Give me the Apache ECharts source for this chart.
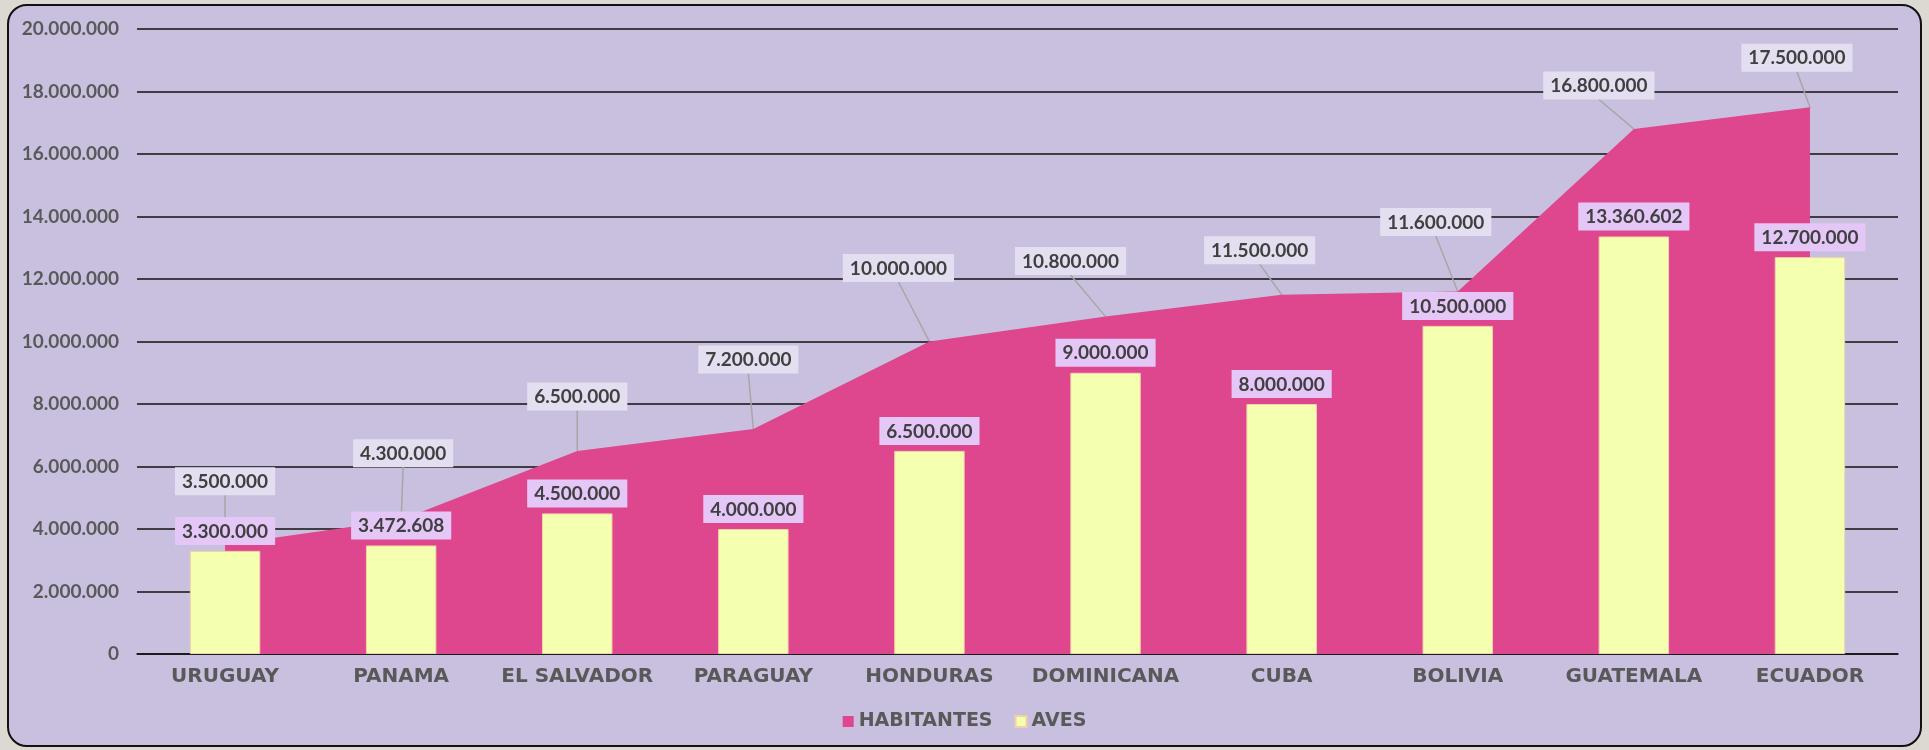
<!DOCTYPE html>
<html>
<head>
<meta charset="utf-8">
<script src="https://cdn.jsdelivr.net/npm/echarts@6/dist/echarts.min.js"></script>
<style>
  html, body { margin: 0; padding: 0; background: #dcd9d3; }
  #frame {
    position: absolute; left: 7px; top: 4px; width: 1911px; height: 739px;
    border: 2px solid #111; border-radius: 20px; background: #c9c0df;
  }
  #chart { position: absolute; left: 0; top: 0; width: 1929px; height: 750px; }
</style>
</head>
<body>
<div id="frame"></div>
<div id="chart"></div>
<script>
const paises = ['URUGUAY', 'PANAMA', 'EL SALVADOR', 'PARAGUAY', 'HONDURAS', 'DOMINICANA', 'CUBA', 'BOLIVIA', 'GUATEMALA', 'ECUADOR']
const habitantes = [3500000, 4300000, 6500000, 7200000, 10000000, 10800000, 11500000, 11600000, 16800000, 17500000]
const aves = [3300000, 3472608, 4500000, 4000000, 6500000, 9000000, 8000000, 10500000, 13360602, 12700000]

// desplazamiento de las etiquetas de HABITANTES (centro de la caja respecto al punto)
const labelShift = [[0, -64], [2, -67], [0, -55], [-5, -70], [-31, -74], [-35, -56], [-22, -45], [-22, -70], [-35, -44], [-13, -50]]

function fmt(v) {
  return String(v).replace(/\B(?=(\d{3})+(?!\d))/g, '.')
}

const fuente = 'Lato, "Open Sans", sans-serif'
const fuenteAncha = '"DejaVu Sans", sans-serif'
const chart = echarts.init(document.getElementById('chart'))

let option = {
  backgroundColor: 'transparent',
  textStyle: { fontFamily: fuente },
  grid: { left: 137, right: 31, top: 29, bottom: 96 },
  legend: {
    bottom: 14,
    left: 'center',
    icon: 'rect',
    itemWidth: 11,
    itemHeight: 11,
    itemGap: 22,
    textStyle: { color: '#595959', fontSize: 19, fontWeight: 'bold', fontFamily: fuenteAncha },
    data: ['HABITANTES', 'AVES']
  },
  xAxis: {
    type: 'category',
    data: paises,
    axisTick: { show: false },
    axisLine: { lineStyle: { color: '#111', width: 1.5 } },
    axisLabel: { interval: 0, color: '#595959', fontSize: 20, fontWeight: 'bold', fontFamily: fuenteAncha, margin: 13 }
  },
  yAxis: {
    type: 'value',
    min: 0,
    max: 20000000,
    interval: 2000000,
    axisLine: { show: false },
    axisTick: { show: false },
    splitLine: { lineStyle: { color: '#111', width: 1.5 } },
    axisLabel: {
      color: '#595959', fontSize: 19, fontWeight: 'bold', fontFamily: fuente, margin: 18,
      formatter: function (v) { return fmt(v) }
    }
  },
  series: [
    {
      name: 'HABITANTES',
      type: 'line',
      z: 2,
      data: habitantes,
      symbol: 'circle',
      symbolSize: 1,
      showSymbol: true,
      lineStyle: { width: 0, color: '#de468e' },
      itemStyle: { color: '#de468e' },
      areaStyle: { color: '#de468e', opacity: 1 },
      label: {
        show: true,
        position: 'top',
        distance: 0,
        color: '#404040',
        fontSize: 19,
        fontWeight: 'bold',
        fontFamily: fuente,
        backgroundColor: '#e3dff0',
        padding: [5, 7, 4, 7],
        formatter: function (p) { return fmt(p.value) }
      },
      labelLine: { show: true, lineStyle: { color: '#a6a6a6', width: 1.5 } },
      labelLayout: function (p) {
        const s = labelShift[p.dataIndex]
        return { dx: s[0], dy: s[1] + 15 }
      }
    },
    {
      name: 'AVES',
      type: 'bar',
      z: 5,
      data: aves,
      barWidth: '40%',
      itemStyle: { color: '#f4ffb0', borderColor: '#f0d2a8', borderWidth: 1 },
      label: {
        show: true,
        position: 'top',
        distance: 6,
        color: '#404040',
        fontSize: 19,
        fontWeight: 'bold',
        fontFamily: fuente,
        backgroundColor: '#e4c6f7',
        padding: [5, 7, 4, 7],
        formatter: function (p) { return fmt(p.value) }
      }
    }
  ]
}
chart.setOption(option)
window.addEventListener('resize', () => { chart.resize() })
</script>
</body>
</html>
